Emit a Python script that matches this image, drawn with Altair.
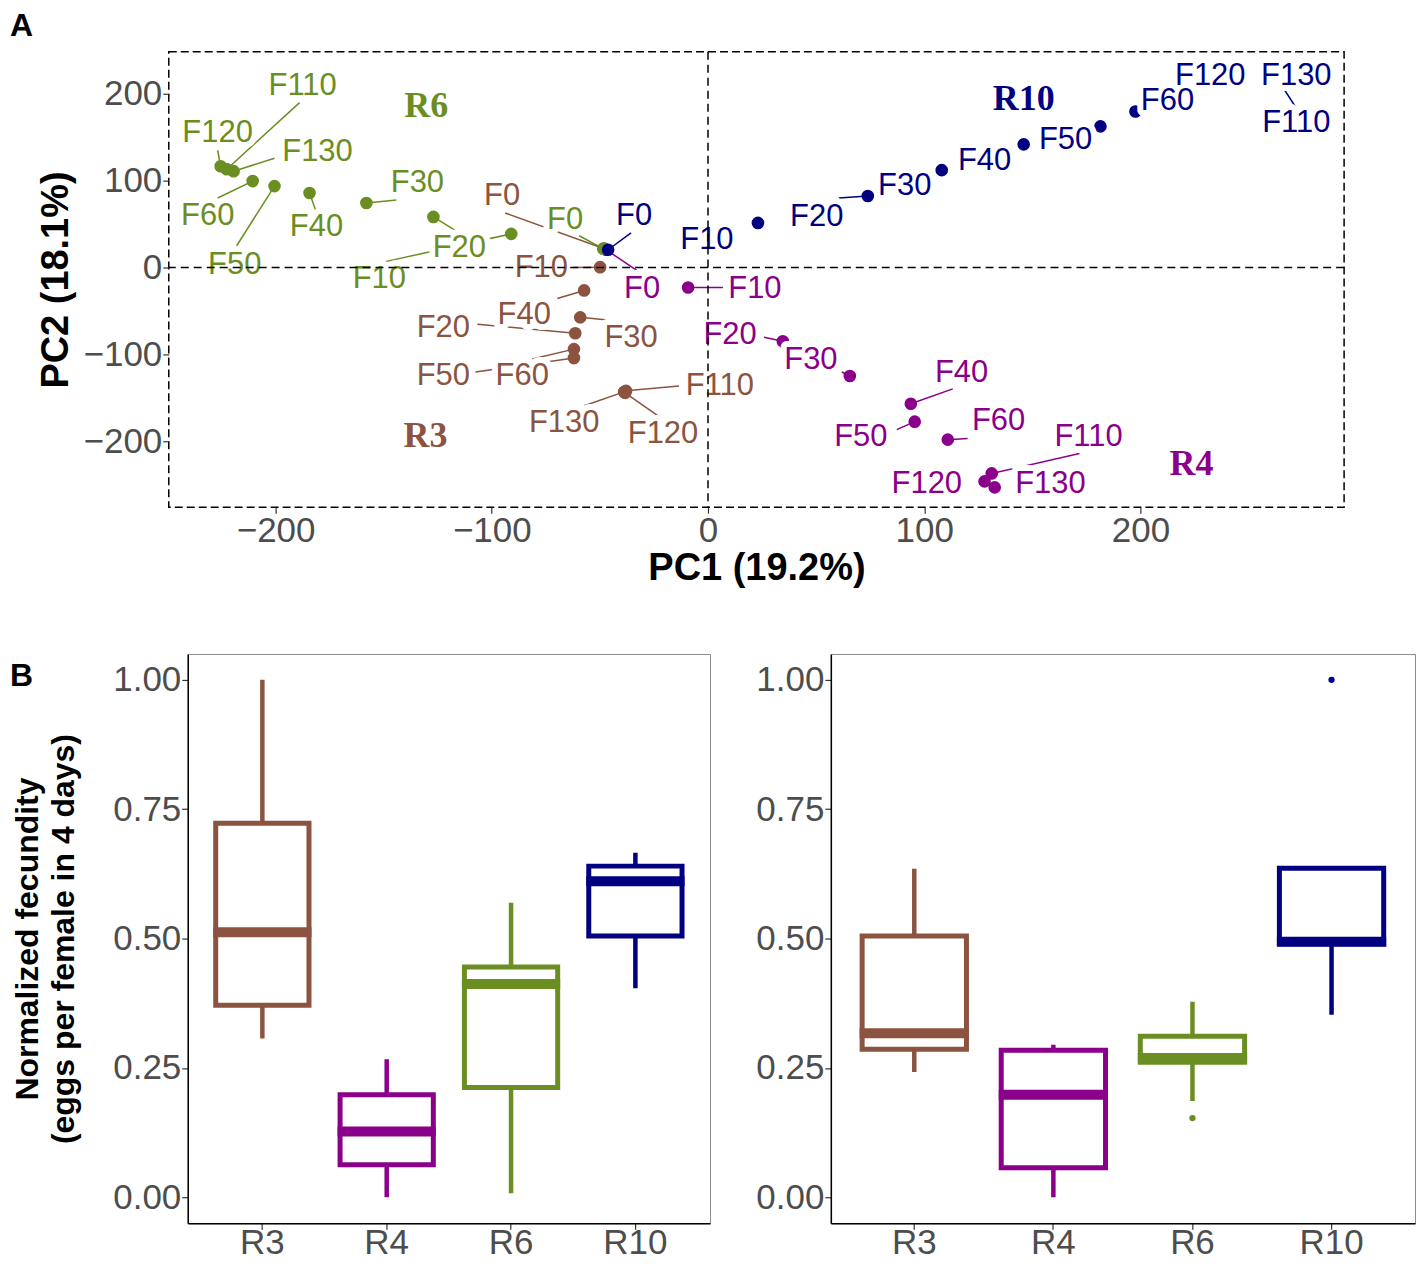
import altair as alt
import pandas as pd

# ---------------- shared categories ----------------
lines = ["R3", "R4", "R6", "R10"]
line_colors = ["#8B5340", "#8B008B", "#6B8E23", "#000080"]
generations = ["F0", "F10", "F20", "F30", "F40", "F50", "F60", "F110", "F120", "F130"]

# ---------------- panel A: PCA scores (order = generations) ----------------
r3_pc1 = [-48.0, -49.9, -61.4, -59.1, -57.3, -62.0, -62.0, -37.9, -38.3, -38.8]
r3_pc2 = [21.8, 0.5, -75.6, -57.3, -26.3, -104.2, -93.9, -142.0, -144.3, -143.2]
r4_pc1 = [-47.1, -9.2, 34.6, 65.6, 93.8, 95.6, 110.9, 131.2, 127.9, 132.6]
r4_pc2 = [20.6, -22.9, -84.8, -124.9, -156.9, -177.5, -198.2, -237.1, -246.3, -253.2]
r6_pc1 = [-48.5, -91.0, -127.0, -158.0, -184.3, -200.5, -210.6, -222.6, -225.4, -219.4]
r6_pc2 = [21.8, 38.9, 58.4, 74.5, 85.9, 93.9, 99.7, 113.4, 116.8, 111.1]
r10_pc1 = [-46.2, 23.1, 73.9, 108.1, 146.0, 181.5, 197.7, 262.4, 245.0, 258.2]
r10_pc2 = [20.6, 51.5, 82.5, 112.3, 142.0, 162.7, 179.8, 221.1, 220.5, 222.2]

# repelled label positions (data units)
r3_lab_x = [-95.2, -77.1, -122.4, -35.6, -85.0, -122.4, -85.9, 5.5, -20.8, -66.5]
r3_lab_y = [82.5, 0.0, -69.9, -81.3, -55.0, -124.9, -124.9, -136.3, -191.3, -178.7]
r4_lab_x = [-30.5, 21.7, 10.2, 47.6, 117.3, 70.7, 134.4, 176.0, 101.2, 158.4]
r4_lab_y = [-24.1, -24.1, -77.9, -106.5, -121.4, -194.7, -176.4, -194.7, -249.7, -249.7]
r6_lab_x = [-66.1, -152.0, -115.0, -134.4, -181.1, -218.9, -231.4, -187.5, -226.8, -180.6]
r6_lab_y = [55.0, -12.6, 22.9, 97.4, 47.0, 3.4, 59.6, 209.6, 154.6, 132.9]
r10_lab_x = [-34.2, -0.5, 50.3, 91.0, 127.9, 165.4, 212.5, 272.1, 232.3, 272.1]
r10_lab_y = [59.6, 32.1, 58.4, 93.9, 122.6, 146.6, 192.4, 166.1, 221.1, 221.1]

# start of the connector segments (label side), data units
r3_seg_x = [-93.8, -64.7, -106.7, -45.3, -69.7, -107.6, -81.3, -13.4, -22.6, -57.3]
r3_seg_y = [63.0, 0.0, -65.3, -60.7, -35.5, -120.3, -105.4, -136.3, -171.8, -159.2]
r4_seg_x = [-31.4, 6.9, 25.9, 61.9, 113.2, 87.3, 120.1, 171.8, 127.9, 132.6]
r4_seg_y = [-5.7, -22.9, -80.2, -120.3, -139.7, -186.7, -197.0, -214.2, -246.3, -253.2]
r6_seg_x = [-59.6, -149.2, -117.3, -144.1, -181.5, -218.0, -226.8, -188.9, -226.8, -200.5]
r6_seg_y = [36.7, 6.9, 43.5, 77.9, 66.4, 25.2, 80.2, 190.1, 135.2, 126.0]
r10_seg_x = [-35.6, 23.1, 60.5, 108.1, 146.0, 181.5, 197.7, 271.6, 245.0, 258.2]
r10_seg_y = [40.1, 51.5, 80.2, 112.3, 142.0, 162.7, 179.8, 185.6, 220.5, 222.2]

# group labels (R3, R4, R6, R10)
group_lab_x = [-130.7, 223.6, -130.3, 146.0]
group_lab_y = [-193.6, -225.7, 185.6, 194.7]

# ---------------- panel B: boxplot summaries (order = lines) ----------------
left_lower = [0.307, 0.000, 0.008, 0.404]
left_q1 = [0.371, 0.063, 0.212, 0.505]
left_median = [0.512, 0.127, 0.412, 0.611]
left_q3 = [0.723, 0.198, 0.445, 0.640]
left_upper = [1.000, 0.267, 0.569, 0.666]
left_out_line = []
left_out_val = []

right_lower = [0.242, 0.000, 0.186, 0.353]
right_q1 = [0.286, 0.057, 0.261, 0.490]
right_median = [0.317, 0.198, 0.269, 0.494]
right_q3 = [0.505, 0.284, 0.311, 0.636]
right_upper = [0.635, 0.295, 0.378, 0.636]
right_out_line = ["R6", "R10"]
right_out_val = [0.153, 1.000]

# ---------------- build tables ----------------
rows = []
for ln, pc1, pc2, lx, ly, sx, sy in [
    ("R3", r3_pc1, r3_pc2, r3_lab_x, r3_lab_y, r3_seg_x, r3_seg_y),
    ("R4", r4_pc1, r4_pc2, r4_lab_x, r4_lab_y, r4_seg_x, r4_seg_y),
    ("R6", r6_pc1, r6_pc2, r6_lab_x, r6_lab_y, r6_seg_x, r6_seg_y),
    ("R10", r10_pc1, r10_pc2, r10_lab_x, r10_lab_y, r10_seg_x, r10_seg_y),
]:
    for i, g in enumerate(generations):
        rows.append(dict(line=ln, gen=g, pc1=pc1[i], pc2=pc2[i],
                         lab_x=lx[i], lab_y=ly[i], seg_x=sx[i], seg_y=sy[i]))
pca = pd.DataFrame(rows)
groups = pd.DataFrame(dict(line=lines, gx=group_lab_x, gy=group_lab_y))

FONT = "Liberation Sans"
GREY = "#4D4D4D"
color_scale = alt.Scale(domain=lines, range=line_colors)
col = alt.Color("line:N", scale=color_scale, legend=None)

# ---------------- panel A ----------------
A_W, A_H = 1177, 456
xA_scale = alt.Scale(domain=[-249.4, 294.2], nice=False, zero=False)
yA_scale = alt.Scale(domain=[-276.0, 248.6], nice=False, zero=False)
xA_axis = alt.Axis(values=[-200, -100, 0, 100, 200], grid=False, domain=False,
                   labelFont=FONT, labelFontSize=35, labelColor=GREY, labelPadding=0,
                   tickColor="#333333", tickSize=6, tickWidth=1.2,
                   titleFont=FONT, titleFontSize=38, titleFontWeight="bold",
                   titleColor="black", titlePadding=1)
yA_axis = alt.Axis(values=[-200, -100, 0, 100, 200], grid=False, domain=False,
                   labelFont=FONT, labelFontSize=35, labelColor=GREY, labelPadding=1,
                   tickColor="#333333", tickSize=6, tickWidth=1.2,
                   titleFont=FONT, titleFontSize=38, titleFontWeight="bold",
                   titleColor="black", titlePadding=8)


def XA(field):
    return alt.X(field, type="quantitative", scale=xA_scale, axis=xA_axis, title="PC1 (19.2%)")


def YA(field):
    return alt.Y(field, type="quantitative", scale=yA_scale, axis=yA_axis, title="PC2 (18.1%)")


baseA = alt.Chart(pca)
segs = baseA.mark_rule(strokeWidth=1.5).encode(
    x=XA("seg_x"), y=YA("seg_y"), x2="pc1:Q", y2="pc2:Q", color=col)
pts = baseA.mark_circle(size=160, opacity=1).encode(x=XA("pc1"), y=YA("pc2"), color=col)
halo = baseA.mark_text(font=FONT, fontSize=31, fill="white", stroke="white",
                       strokeWidth=12, strokeJoin="round").encode(
    x=XA("lab_x"), y=YA("lab_y"), text="gen:N")
labels = baseA.mark_text(font=FONT, fontSize=31).encode(
    x=XA("lab_x"), y=YA("lab_y"), text="gen:N", color=col)
glabels = alt.Chart(groups).mark_text(font="Liberation Serif", fontSize=36,
                                      fontWeight="bold").encode(
    x=XA("gx"), y=YA("gy"), text="line:N", color=col)
vzero = alt.Chart(pd.DataFrame({"v": [0.0]})).mark_rule(
    color="black", strokeWidth=1.5, strokeDash=[8, 5]).encode(x=XA("v"))
hzero = alt.Chart(pd.DataFrame({"v": [0.0]})).mark_rule(
    color="black", strokeWidth=1.5, strokeDash=[8, 5]).encode(y=YA("v"))
letterA = alt.Chart(pd.DataFrame({"t": ["A"]})).mark_text(
    font=FONT, fontSize=32, fontWeight="bold", color="black", align="left").encode(
    text="t:N", x=alt.value(-159), y=alt.value(-26))

panelA = alt.layer(segs, pts, halo, labels, glabels, vzero, hzero, letterA).properties(
    width=A_W, height=A_H,
    view=alt.ViewBackground(stroke="black", strokeWidth=1.5, strokeDash=[8, 4]))

# ---------------- panel B ----------------
B_H = 570
yB_scale = alt.Scale(domain=[-0.05, 1.05], nice=False, zero=False)


def box_panel(lower, q1, median, q3, upper, out_line, out_val, width, with_title):
    df = pd.DataFrame(dict(line=lines, lower=lower, q1=q1, median=median, q3=q3, upper=upper))
    odf = pd.DataFrame(dict(line=out_line, val=out_val))
    bw = width / 4.2 * 0.75
    xs = alt.Scale(domain=lines, paddingInner=0.25, paddingOuter=0.225)
    xax = alt.Axis(title=None, labelAngle=0, labelFont=FONT, labelFontSize=35,
                   labelColor=GREY, labelPadding=-4, tickColor="#333333", tickSize=6,
                   tickWidth=1.2, domainColor="black", domainWidth=1.5, grid=False)
    yax = alt.Axis(values=[0, 0.25, 0.5, 0.75, 1.0], format=".2f", grid=False,
                   labelFont=FONT, labelFontSize=35, labelColor=GREY, labelPadding=1,
                   tickColor="#333333", tickSize=6, tickWidth=1.2,
                   domainColor="black", domainWidth=1.5,
                   titleFont=FONT, titleFontSize=32, titleFontWeight="bold",
                   titleColor="black", titlePadding=32, titleLineHeight=36)
    ytitle = ["Normalized fecundity", "(eggs per female in 4 days)"] if with_title else None

    def X():
        return alt.X("line:N", scale=xs, sort=lines, axis=xax, title=None)

    def Y(field):
        if ytitle is None:
            return alt.Y(field, type="quantitative", scale=yB_scale, axis=yax, title=None)
        return alt.Y(field, type="quantitative", scale=yB_scale, axis=yax, title=ytitle)

    whisk = alt.Chart(df).mark_rule(strokeWidth=4.5).encode(
        x=X(), y=Y("lower"), y2="upper:Q", color=col)
    box = alt.Chart(df).mark_bar(fill="white", strokeWidth=5, fillOpacity=1).encode(
        x=X(), y=Y("q1"), y2="q3:Q",
        stroke=alt.Stroke("line:N", scale=color_scale, legend=None))
    med = alt.Chart(df).mark_tick(thickness=10, size=bw + 5, opacity=1).encode(
        x=X(), y=Y("median"), color=col)
    layers = [whisk, box, med]
    if len(odf):
        outl = alt.Chart(odf).mark_circle(size=40, opacity=1).encode(
            x=X(), y=Y("val"), color=col)
        layers.append(outl)
    if with_title:
        letterB = alt.Chart(pd.DataFrame({"t": ["B"]})).mark_text(
            font=FONT, fontSize=32, fontWeight="bold", color="black", align="left").encode(
            text="t:N", x=alt.value(-178), y=alt.value(22))
        layers.append(letterB)
    return alt.layer(*layers).properties(
        width=width, height=B_H,
        view=alt.ViewBackground(stroke="#8C8C8C", strokeWidth=1))


def spacer():
    # empty 1px cell: lets each row be placed by its own left extent
    return alt.Chart(pd.DataFrame({"t": [""]})).mark_text().encode(
        text="t:N", x=alt.value(0), y=alt.value(0)).properties(width=1, height=1)


panelBL = box_panel(left_lower, left_q1, left_median, left_q3, left_upper,
                    left_out_line, left_out_val, 523, True)
panelBR = box_panel(right_lower, right_q1, right_median, right_q3, right_upper,
                    right_out_line, right_out_val, 585, False)

top = alt.hconcat(spacer(), panelA, spacing=0)
bottom = alt.hconcat(spacer(), alt.hconcat(panelBL, panelBR, spacing=44), spacing=0)
chart = alt.vconcat(top, bottom, spacing=60).properties(
    padding={"left": 0, "top": 0, "right": 0, "bottom": 0}
).configure_view(stroke=None)

chart.save("out.html", embed_options={"renderer": "svg", "actions": False})
